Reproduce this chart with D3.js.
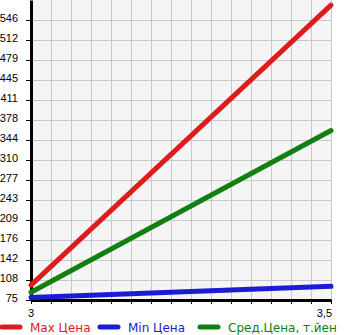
<!DOCTYPE html>
<html><head><meta charset="utf-8">
<script src="https://cdn.jsdelivr.net/npm/d3@7"></script>
<style>body{margin:0;background:#fff}svg{display:block}</style>
</head><body>
<script>
const xValues = [3, 3.5];
const maxPrice = [100, 571];
const minPrice = [79, 98];
const avgPrice = [88, 360];
const yTickLabels = ["75","108","142","176","209","243","277","310","344","378","411","445","479","512","546"];
const xTickLabels = ["3","3,5"];
const seriesNames = ["Max Цена","Min Цена","Сред.Цена, т.йен"];
const colors = ["#dd1c1c","#1c1cd4","#118011"];

const W = 345, H = 335;
const mLeft = 31, mRight = 331, mTop = 0, mBottom = 300;
const svg = d3.select("body").append("svg").attr("width", W).attr("height", H);

const x = d3.scaleLinear().domain([3, 3.5]).range([mLeft, mRight]);
const yStep = (546 - 75) / 14;
const y = d3.scaleLinear().domain([75, 75 + 15 * yStep]).range([mBottom, mTop]);

svg.append("rect").attr("x", mLeft).attr("y", mTop).attr("width", mRight - mLeft).attr("height", mBottom - mTop).attr("fill", "#f5f5f5");

const yTicks = yTickLabels.map((l, i) => 75 + i * yStep);
const xTicks = d3.range(16).map(i => 3 + i * 0.5 / 15);

// grid
svg.append("g").selectAll("line").data(yTicks.slice(1)).join("line")
  .attr("x1", mLeft).attr("x2", mRight).attr("y1", d => Math.round(y(d)) + 0.5).attr("y2", d => Math.round(y(d)) + 0.5)
  .attr("stroke", "#c8c8c8").attr("stroke-width", 1);
svg.append("g").selectAll("line").data(xTicks.slice(1)).join("line")
  .attr("x1", d => Math.round(x(d)) + 0.5).attr("x2", d => Math.round(x(d)) + 0.5).attr("y1", mTop).attr("y2", mBottom)
  .attr("stroke", "#c8c8c8").attr("stroke-width", 1);

// y axis
const yAxis = d3.axisLeft(y).tickValues(yTicks).tickFormat((d, i) => yTickLabels[i]).tickSize(5).tickSizeOuter(0);
const gy = svg.append("g").attr("transform", `translate(${mLeft},0)`).call(yAxis);
gy.select(".domain").attr("stroke", "#000").attr("stroke-width", 3);
gy.selectAll(".tick line").attr("stroke", "#000");
gy.selectAll(".tick text").attr("x", -13).attr("y", 1).attr("dy", "0").attr("text-anchor", "end")
  .style("font-family", "Liberation Sans, Arial, sans-serif").style("font-size", "11px").attr("fill", "#000");

// x axis
const xAxis = d3.axisBottom(x).tickValues(xTicks).tickFormat("").tickSize(4).tickSizeOuter(0);
const gx = svg.append("g").attr("transform", `translate(0,${mBottom})`).call(xAxis);
gx.select(".domain").attr("stroke", "#000").attr("stroke-width", 3);
gx.selectAll(".tick line").attr("stroke", "#000");
svg.append("g").selectAll("text").data(xValues).join("text")
  .attr("x", (d, i) => i === 0 ? x(d) : x(d) + 1)
  .attr("y", 317)
  .attr("text-anchor", (d, i) => i === 0 ? "middle" : "end")
  .style("font-family", "Liberation Sans, Arial, sans-serif").style("font-size", "11px")
  .text((d, i) => xTickLabels[i]);

// lines
const line = d3.line().x((d, i) => x(xValues[i])).y(d => y(d));
[maxPrice, minPrice, avgPrice].forEach((s, k) => {
  svg.append("path").datum(s).attr("d", line).attr("fill", "none")
    .attr("stroke", colors[k]).attr("stroke-width", 5).attr("stroke-linecap", "round");
});

// legend
const legX = [0, 98, 198];
const lg = svg.append("g");
seriesNames.forEach((n, k) => {
  lg.append("line").attr("x1", legX[k] + 2).attr("x2", legX[k] + 20).attr("y1", 327).attr("y2", 327)
    .attr("stroke", colors[k]).attr("stroke-width", 5).attr("stroke-linecap", "round");
  lg.append("text").attr("x", legX[k] + 30).attr("y", 332).attr("fill", colors[k])
    .style("font-family", "DejaVu Sans, sans-serif").style("font-size", "12px").text(n);
});
</script>
</body></html>
